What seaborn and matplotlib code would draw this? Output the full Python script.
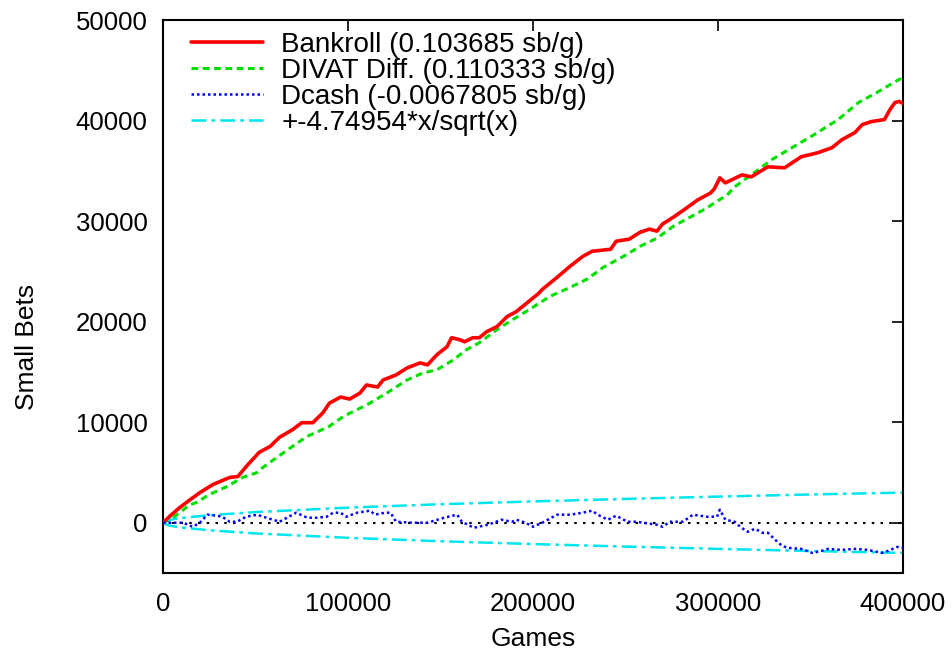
import seaborn as sns
import pandas as pd
import matplotlib.pyplot as plt

# data (games in thousands, small bets)
bank_x = [0, 4, 9, 14, 20, 27, 36, 40.5, 46, 52, 58, 63, 70, 75, 81, 86.5, 90, 96, 101, 106.5,
          110, 116, 119, 126, 132, 139, 143, 148, 153.5, 156, 160.5, 163, 167.5, 171, 175,
          180.5, 186, 191, 197, 203, 205, 213, 220, 227, 232, 242, 245, 252, 258, 263, 267,
          270, 276, 283, 289, 296, 298, 301, 304, 313, 318, 327, 336, 345, 354, 361.6, 367,
          374, 378, 383, 390, 393, 395.7, 398, 400]
bank_y = [0, 700, 1500, 2200, 3000, 3800, 4500, 4600, 5800, 7000, 7600, 8500, 9250, 9950, 9950,
          10950, 11900, 12500, 12300, 12900, 13700, 13500, 14200, 14700, 15400, 15900, 15700,
          16700, 17500, 18400, 18200, 18000, 18400, 18400, 19000, 19500, 20500, 21000, 21900,
          22800, 23200, 24400, 25500, 26500, 27000, 27200, 28000, 28200, 28900, 29200, 29000,
          29700, 30400, 31300, 32100, 32800, 33200, 34300, 33800, 34600, 34400, 35400, 35300,
          36400, 36800, 37300, 38100, 38800, 39600, 39900, 40100, 41100, 41800, 41900, 41700]

divat_x = [0, 4, 14.6, 18, 25, 34.6, 43, 51, 54, 61.6, 70, 78, 83, 90, 97, 101, 110, 121, 132,
           140.5, 148, 157, 164, 171, 180.5, 189, 198, 204, 209, 220, 229, 238, 249, 258, 267,
           276, 285, 294, 298, 305, 309, 318, 329, 340, 352, 365, 376, 386, 398, 400]
divat_y = [0, 300, 1800, 2000, 2800, 3600, 4500, 5000, 5500, 6500, 7600, 8600, 9000, 9600, 10500,
           10900, 11700, 12900, 14200, 14900, 15200, 16200, 17200, 17900, 19200, 20200, 21200,
           21900, 22500, 23400, 24200, 25400, 26500, 27500, 28300, 29500, 30400, 31300, 31800,
           32600, 33400, 34600, 36100, 37300, 38600, 40100, 41800, 42800, 44100, 44200]

dcash_x = [0, 5.4, 11, 16, 20, 24, 29, 32, 36, 40, 45, 51, 54, 59.5, 63, 67, 72, 78, 83, 88.6,
           92, 96, 99, 105, 112, 114.6, 120, 123, 126, 135, 143, 152, 159, 161.6, 168, 175.7,
           183, 188.6, 191, 196, 200, 205, 213, 220, 227, 232, 235, 240.5, 245, 251, 256, 259.5,
           267, 270, 274, 281, 286.5, 294, 299.5, 301, 304, 309, 312, 316, 320, 324, 327, 331,
           334.6, 338, 345, 351, 356, 359.5, 367, 374, 381, 388.6, 392, 397, 400]
dcash_y = [0, 0, 0, -400, 0, 800, 700, 600, 100, 100, 600, 800, 600, 300, 100, 500, 1000, 500,
           500, 600, 1000, 1000, 600, 1000, 1200, 800, 1000, 1000, 100, 0, 0, 500, 800, 100, -500,
           -200, 300, 100, 300, 0, -400, 0, 800, 800, 1000, 1200, 800, 300, 700, 100, 100, 0,
           -200, -400, 100, 100, 800, 600, 600, 1300, 300, 100, -400, -900, -600, -1000, -1000,
           -1700, -2300, -2500, -2600, -3000, -2800, -2600, -2700, -2600, -2700, -3000, -2800,
           -2400, -2500]

band_x = [0, 2, 5, 10, 25, 50, 100, 150, 200, 250, 300, 350, 400]
band_y = [0, 210, 335, 475, 750, 1060, 1500, 1840, 2120, 2370, 2600, 2810, 3000]

labels = ["Bankroll (0.103685 sb/g)", "DIVAT Diff. (0.110333 sb/g)",
          "Dcash (-0.0067805 sb/g)", "+-4.74954*x/sqrt(x)"]

sns.set_theme(style='white')
plt.rcParams['font.family'] = ['Liberation Sans', 'DejaVu Sans']
plt.rcParams['text.color'] = 'black'
plt.rcParams['axes.labelcolor'] = 'black'

def frame(xs, ys):
    return pd.DataFrame({'games': [v * 1000 for v in xs], 'sb': ys})

fig = plt.figure(figsize=(9.53, 6.56), dpi=100)
ax = fig.add_axes([0.171, 0.1265, 0.7765, 0.843])

ax.axhline(0, color='black', lw=1.5, ls=(0, (1.2, 3)), zorder=1)
sns.lineplot(data=frame(bank_x, bank_y), x='games', y='sb', color='#ff0000', lw=2.6,
             label=labels[0], ax=ax, zorder=3)
sns.lineplot(data=frame(divat_x, divat_y), x='games', y='sb', color='#00e000', lw=2.2,
             ls=(0, (2.2, 1.5)), label=labels[1], ax=ax, zorder=2)
sns.lineplot(data=frame(dcash_x, dcash_y), x='games', y='sb', color='#0000ff', lw=1.8,
             ls=(0, (1, 1.2)), label=labels[2], ax=ax, zorder=3)
sns.lineplot(data=frame(band_x, band_y), x='games', y='sb', color='#00e5ee', lw=1.8,
             ls=(0, (6, 2, 1.5, 2)), label=labels[3], ax=ax, zorder=2)
sns.lineplot(data=frame(band_x, [-v for v in band_y]), x='games', y='sb', color='#00e5ee',
             lw=1.8, ls=(0, (6, 2, 1.5, 2)), ax=ax, zorder=2)

ax.set_xlim(0, 400000)
ax.set_ylim(-5000, 50000)
ax.set_xticks([0, 100000, 200000, 300000, 400000])
ax.set_yticks([0, 10000, 20000, 30000, 40000, 50000])
ax.tick_params(direction='in', length=8, width=1.2, top=True, right=True,
               labelsize=18.5, colors='black')
ax.tick_params(axis='x', pad=14)
ax.tick_params(axis='y', pad=11)
for s in ax.spines.values():
    s.set_color('black')
    s.set_linewidth(1.5)
ax.set_xlabel('Games', fontsize=19)
ax.set_ylabel('Small Bets', fontsize=19)
ax.xaxis.set_label_coords(0.5, -0.097)
ax.yaxis.set_label_coords(-0.168, 0.409)

ax.legend(loc='upper left', bbox_to_anchor=(0.038, 0.979), frameon=False, fontsize=20,
          handlelength=2.6, handletextpad=0.65, labelspacing=0.0, borderpad=0,
          borderaxespad=0)

fig.savefig('out.png', dpi=100)
